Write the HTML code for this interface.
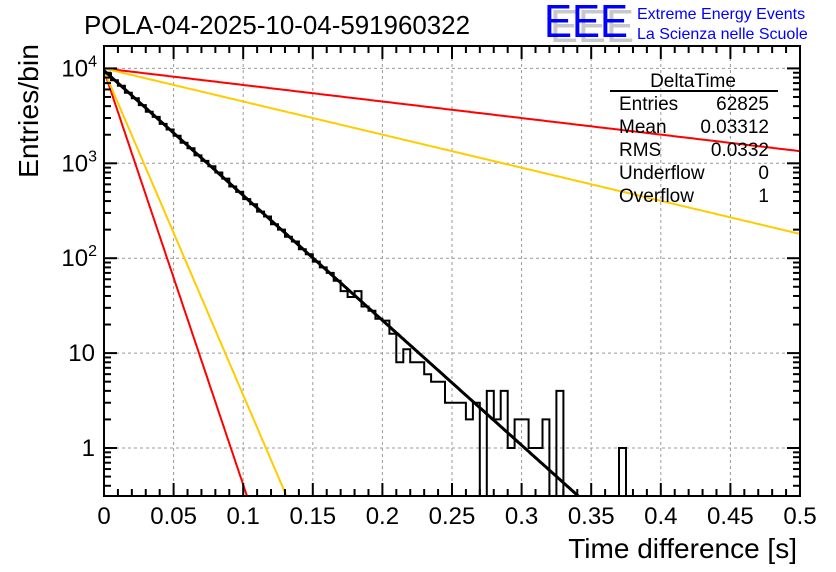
<!DOCTYPE html>
<html><head><meta charset="utf-8">
<style>
body{margin:0;background:#fff;}
svg{display:block;font-family:"Liberation Sans",sans-serif;}
</style></head>
<body>
<svg id="chart" width="836" height="572" viewBox="0 0 836 572" xmlns="http://www.w3.org/2000/svg">
<rect x="0" y="0" width="836" height="572" fill="#fff"/>
<text x="84" y="34" font-size="26" textLength="386" lengthAdjust="spacingAndGlyphs">POLA-04-2025-10-04-591960322</text>
<g>
<text x="550" y="42" font-size="46" fill="#c8c8c8" textLength="84" lengthAdjust="spacingAndGlyphs">EEE</text>
<text x="544" y="37" font-size="46" fill="#0000ff" textLength="84" lengthAdjust="spacingAndGlyphs">EEE</text>
<text x="637" y="19" font-size="16" fill="#0000ff">Extreme Energy Events</text>
<text x="637" y="39" font-size="16" fill="#0000ff">La Scienza nelle Scuole</text>
</g>
<g id="grid"></g>
<g id="marks"></g>
<g id="axes"></g>
<text transform="translate(38,178) rotate(-90)" font-size="28" textLength="134" lengthAdjust="spacingAndGlyphs">Entries/bin</text>
<text x="797" y="558" font-size="28" text-anchor="end">Time difference [s]</text>
<g font-size="19">
<text x="693" y="87" text-anchor="middle">DeltaTime</text>
<line x1="610" y1="91" x2="778" y2="91" stroke="#000" stroke-width="2"/>
<text x="619" y="110">Entries</text><text x="769" y="110" text-anchor="end">62825</text>
<text x="619" y="133">Mean</text><text x="769" y="133" text-anchor="end">0.03312</text>
<text x="619" y="156">RMS</text><text x="769" y="156" text-anchor="end">0.0332</text>
<text x="619" y="179">Underflow</text><text x="769" y="179" text-anchor="end">0</text>
<text x="619" y="202">Overflow</text><text x="769" y="202" text-anchor="end">1</text>
</g>
</svg>
<script>
const binWidth = 0.005;
const counts = [8900,7500,6550,5550,4850,4100,3500,3080,2600,2270,1950,1650,1440,1210,1060,930,800,690,570,500,420,370,310,275,228,200,168,150,124,110,92,80,70,58,45,39,45,31,28,23,22,16,8,11,8,8,6,5,5,3,3,3,2,3,0,4,2,4,1,2,2,1,1,2,0,4,0,0,0,0,0,0,0,0,1,0,0,0,0,0,0,0,0,0,0,0,0,0,0,0,0,0,0,0,0,0,0,0,0,0];
const fitAmp = [9500];
const fitTau = [0.0330];
const curveAmps = [10000, 10000, 9500, 9500];
const curveTaus = [0.249, 0.1245, 0.00995, 0.0127];
const curveColors = ['#ff0000', '#ffcc00', '#ff0000', '#ffcc00'];
const curveNames = ['red-slow-curve','yellow-slow-curve','red-fast-curve','yellow-fast-curve'];
const xTicks = [0,0.05,0.1,0.15,0.2,0.25,0.3,0.35,0.4,0.45,0.5];
const xTickLabels = ['0','0.05','0.1','0.15','0.2','0.25','0.3','0.35','0.4','0.45','0.5'];
const yDecades = [0,1,2,3,4];

const X0=104,X1=800,Y0=46,Y1=496;
const yLog1=448, pxDec=94.9;
function sx(v){return X0+(v/0.5)*(X1-X0);}
function sy(v){return yLog1-Math.log10(Math.max(v,1e-9))*pxDec;}
const NS='http://www.w3.org/2000/svg';
function mk(tag,attrs,parent){const e=document.createElementNS(NS,tag);for(const k in attrs)e.setAttribute(k,attrs[k]);parent.appendChild(e);return e;}
const grid=document.getElementById('grid'),marks=document.getElementById('marks'),axes=document.getElementById('axes');

xTicks.forEach((t,i)=>{if(i===0||i===xTicks.length-1)return;
 const g=mk('line',{x1:sx(t),x2:sx(t),y1:Y0,y2:Y1,stroke:'#999','stroke-dasharray':'3,3','stroke-width':1},grid);
 
 });
yDecades.forEach(d=>{const y=sy(Math.pow(10,d));
 const g=mk('line',{x1:X0,x2:X1,y1:y,y2:y,stroke:'#999','stroke-dasharray':'3,3','stroke-width':1},grid);
 
 });

const defs=mk('defs',{},marks);
const cp=mk('clipPath',{id:'pc'},defs);
mk('rect',{x:X0,y:Y0,width:X1-X0,height:Y1-Y0},cp);
const clipG=mk('g',{'clip-path':'url(#pc)'},marks);

curveAmps.forEach((A,k)=>{let d='';
 for(let i=0;i<=400;i++){const t=0.5*i/400;const v=A*Math.exp(-t/curveTaus[k]);const y=sy(v);if(y>Y1+20)break;d+=(i?'L':'M')+sx(t).toFixed(1)+','+y.toFixed(1);}
 const p=mk('path',{d:d,fill:'none',stroke:curveColors[k],'stroke-width':2},clipG);
 
 });

let hd='M'+sx(0)+','+Y1;
counts.forEach((c,i)=>{const y=c>0?Math.min(sy(c),Y1):Y1;hd+='L'+sx(i*binWidth).toFixed(1)+','+y.toFixed(1)+'L'+sx((i+1)*binWidth).toFixed(1)+','+y.toFixed(1);});
const h=mk('path',{d:hd,fill:'none',stroke:'#000','stroke-width':2},clipG);



let fd='';
for(let i=0;i<=400;i++){const t=0.5*i/400;const v=fitAmp[0]*Math.exp(-t/fitTau[0]);const y=sy(v);if(y>Y1+20)break;fd+=(i?'L':'M')+sx(t).toFixed(1)+','+y.toFixed(1);}
const f=mk('path',{d:fd,fill:'none',stroke:'#000','stroke-width':3},clipG);



const fr=mk('rect',{x:X0,y:Y0,width:X1-X0,height:Y1-Y0,fill:'none',stroke:'#000','stroke-width':2},axes);



for(let i=0;i<=50;i++){const t=i*0.01;const x=sx(t);const L=(i%5===0)?13:7;
 mk('line',{x1:x,x2:x,y1:Y1,y2:Y1-L,stroke:'#000','stroke-width':2},axes);
 mk('line',{x1:x,x2:x,y1:Y0,y2:Y0+L,stroke:'#000','stroke-width':2},axes);}
xTicks.forEach((t,i)=>{const tx=mk('text',{x:sx(t),y:524,'font-size':24,'text-anchor':'middle'},axes);tx.textContent=xTickLabels[i];
 
 });

for(let d=-1;d<=4;d++){for(let m=1;m<=9;m++){const v=m*Math.pow(10,d);const y=sy(v);if(y>Y1||y<Y0)continue;const L=m===1?13:7;
 mk('line',{x1:X0,x2:X0+L,y1:y,y2:y,stroke:'#000','stroke-width':2},axes);
 mk('line',{x1:X1,x2:X1-L,y1:y,y2:y,stroke:'#000','stroke-width':2},axes);}}
yDecades.forEach(d=>{const y=sy(Math.pow(10,d));const g=mk('text',{x:95,y:y+8,'font-size':24,'text-anchor':'end'},axes);
 if(d===0)g.textContent='1';else if(d===1)g.textContent='10';
 else{g.textContent='10';const s=mk('tspan',{dy:-10,'font-size':16},g);s.textContent=String(d);g.setAttribute('x',97);}
 
 });
</script>
</body></html>
